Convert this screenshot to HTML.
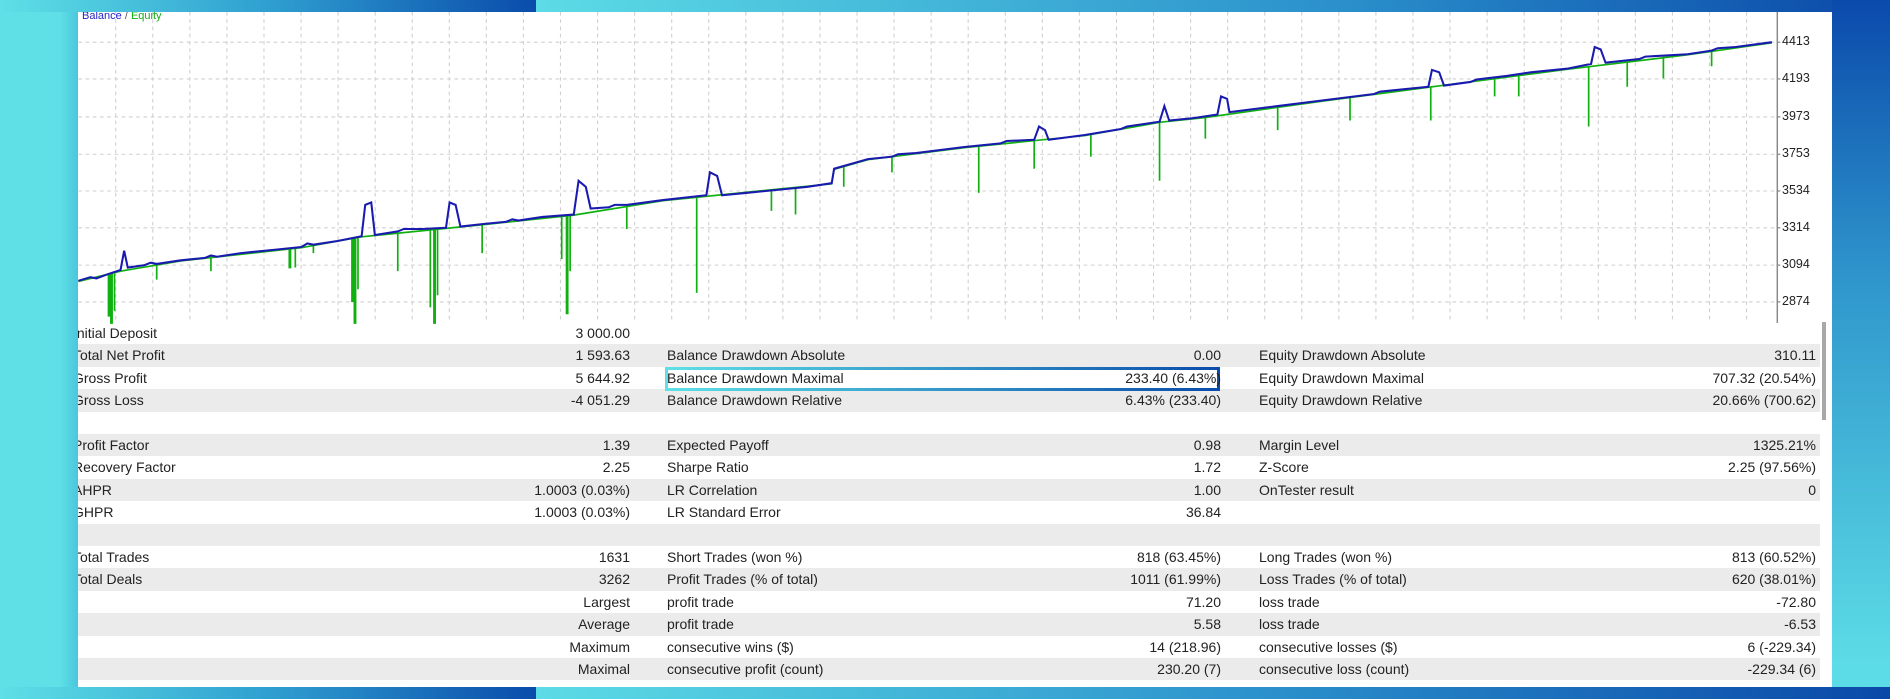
<!DOCTYPE html>
<html><head><meta charset="utf-8">
<style>
*{margin:0;padding:0;box-sizing:border-box}
body{width:1890px;height:699px;overflow:hidden;position:relative;font-family:"Liberation Sans",sans-serif;background:#5ddde6}
.bg{position:absolute}
.panel{position:absolute;left:78px;top:12px;width:1754px;height:675px;background:#fff;overflow:hidden}
.row{position:absolute;left:0;width:1742px;height:22.4px}
.g{background:#ebebeb}
.t{position:absolute;font-size:14px;color:#222;line-height:22.4px;white-space:nowrap}
.r{text-align:right}
.ax{position:absolute;font-size:12.5px;color:#222;left:1704px}
</style></head><body>
<div class="bg" style="left:0;top:0;width:1890px;height:699px;background:linear-gradient(90deg,#5ee0e6 0,#5ee0e6 60px,#4ac6dc 78px,#5ee0e6 79px)"></div>
<div class="bg" style="left:0;top:0;width:536px;height:12px;background:linear-gradient(90deg,#5ee0e6,#2f9fd0 50%,#0a4cab)"></div>
<div class="bg" style="left:536px;top:0;width:1354px;height:12px;background:linear-gradient(90deg,#5cdce6,#2a8fcb 60%,#0a48a8)"></div>
<div class="bg" style="left:1832px;top:0;width:58px;height:699px;background:linear-gradient(180deg,#0a4aab,#2f96cc 40%,#5cdce6 95%)"></div>
<div class="bg" style="left:0;top:687px;width:536px;height:12px;background:linear-gradient(90deg,#5ee0e6,#2f9fd0 50%,#0a4cab)"></div>
<div class="bg" style="left:536px;top:687px;width:1354px;height:12px;background:linear-gradient(90deg,#5cdce6,#2a8fcb 55%,#0a48a8)"></div>

<div class="panel">
<svg style="position:absolute;left:-78px;top:-12px" width="1890" height="699" viewBox="0 0 1568 580" preserveAspectRatio="none">
<g stroke="#cfcfcf" stroke-width="0.9" stroke-dasharray="3,3" fill="none">
<path d="M65,35H1474M65,65.5H1474M65,97H1474M65,128H1474M65,158.5H1474M65,189H1474M65,220H1474M65,250.5H1474"/>
<path d="M96,10V268M126.75,10V268M157.5,10V268M188.25,10V268M219,10V268M249.75,10V268M280.5,10V268M311.25,10V268M342,10V268M372.75,10V268M403.5,10V268M434.25,10V268M465,10V268M495.75,10V268M526.5,10V268M557.25,10V268M588,10V268M618.75,10V268M649.5,10V268M680.25,10V268M711,10V268M741.75,10V268M772.5,10V268M803.25,10V268M834,10V268M864.75,10V268M895.5,10V268M926.25,10V268M957,10V268M987.75,10V268M1018.5,10V268M1049.25,10V268M1080,10V268M1110.75,10V268M1141.5,10V268M1172.25,10V268M1203,10V268M1233.75,10V268M1264.5,10V268M1295.25,10V268M1326,10V268M1356.75,10V268M1387.5,10V268M1418.25,10V268M1449,10V268"/>
</g>
<path d="M1474.5,10V268" stroke="#888" stroke-width="1.2"/>
<g stroke="#888" stroke-width="1"><path d="M1474,35h3M1474,65.5h3M1474,97h3M1474,128h3M1474,158.5h3M1474,189h3M1474,220h3M1474,250.5h3"/></g>
<g fill="none" stroke="#10b010" stroke-width="1.4">
<path d="M65,233.5 L100,225 L150,216.5 L250,205.5 L300,196.5 L400,186.5 L476,178.5 L550,166.5 L690,152.5 L692,140.5 L720,132.5 L800,122.5 L900,112.5 L962,101.5 L1000,97.5 L1100,83.5 L1200,70.5 L1300,57.5 L1400,45.5 L1470,35.5"/>
<path d="M90,228V262h1V228M92,227V268h1V227M95,227V258M130,220V232M175,213V225M240,206V222h1V206M245,205V222M260,203V210M292,197V250h1V197M294,197V268h1V197M297,196V240M330,193V225M357,190V255M360,190V268h1V190M363,189V245M400,186V210M466,179V215M470,179V260h1V179M473,178V225M520,171V190M578,163V243M640,157V175M660,155V178M700,138V155M740,130V143M812,121V160M858,116V140M905,111V130M962,101V150M1000,97V115M1060,89V108M1120,81V100M1187,72V100M1240,65V80M1260,62V80M1318,55V105M1350,51V72M1380,47V65M1420,42V55"/>
</g>
<path fill="none" stroke="#1a1ab0" stroke-width="1.7" d="M65,233 L75,230 L80,231 L88,228 L100,224 L103,208 L106,222 L120,220 L125,218 L130,219 L150,216 L170,214 L175,212 L180,213 L200,210 L230,207 L250,205 L255,202 L260,203 L280,200 L300,196 L303,170 L308,168 L311,195 L330,192 L335,190 L350,190 L370,189 L373,168 L378,170 L382,188 L400,186 L420,184 L425,182 L430,183 L450,180 L476,178 L480,150 L486,155 L490,173 L505,172 L510,170 L520,170 L550,166 L586,162 L589,143 L595,146 L599,162 L620,160 L650,157 L670,155 L690,152 L692,140 L720,132 L740,130 L745,128 L760,127 L800,122 L830,119 L835,117 L858,116 L862,105 L867,108 L870,116 L900,112 L930,107 L935,105 L962,101 L966,88 L970,100 L990,98 L1010,95 L1013,80 L1018,82 L1020,93 L1060,88 L1100,83 L1140,78 L1145,76 L1185,72 L1188,58 L1194,60 L1198,71 L1220,68 L1225,66 L1250,63 L1270,60 L1300,57 L1320,53 L1323,39 L1328,41 L1332,52 L1360,49 L1365,47 L1400,45 L1420,42 L1425,40 L1440,39 L1470,35"/>
</svg>
<div style="position:absolute;left:4px;top:-2px;font-size:11px"><span style="color:#2525c5">Balance</span> <span style="color:#555">/</span> <span style="color:#10b010">Equity</span></div>
<div class="ax" style="top:22px">4413</div>
<div class="ax" style="top:59px">4193</div>
<div class="ax" style="top:97px">3973</div>
<div class="ax" style="top:134px">3753</div>
<div class="ax" style="top:171px">3534</div>
<div class="ax" style="top:208px">3314</div>
<div class="ax" style="top:245px">3094</div>
<div class="ax" style="top:282px">2874</div>

<div style="position:absolute;left:0;top:310px;width:1754px;height:365px">
<div class="row g" style="top:22.4px"></div>
<div class="row g" style="top:67.2px"></div>
<div class="row g" style="top:112px"></div>
<div class="row g" style="top:156.8px"></div>
<div class="row g" style="top:201.6px"></div>
<div class="row g" style="top:246.4px"></div>
<div class="row g" style="top:291.2px"></div>
<div class="row g" style="top:336px"></div>
<div style="position:absolute;left:1744px;top:0;width:4px;height:98px;background:#a8a8a8"></div>
<div style="position:absolute;left:587px;top:45px;width:555px;height:24px;border:3px solid;border-image:linear-gradient(90deg,#5ee0e6,#0a4cab) 1"></div>
</div>

<div style="position:absolute;left:-5px;top:310px;font-size:14px">
<div class="t" style="top:0">Initial Deposit</div>
<div class="t" style="top:22.4px">Total Net Profit</div>
<div class="t" style="top:44.8px">Gross Profit</div>
<div class="t" style="top:67.2px">Gross Loss</div>
<div class="t" style="top:112px">Profit Factor</div>
<div class="t" style="top:134.4px">Recovery Factor</div>
<div class="t" style="top:156.8px">AHPR</div>
<div class="t" style="top:179.2px">GHPR</div>
<div class="t" style="top:224px">Total Trades</div>
<div class="t" style="top:246.4px">Total Deals</div>
</div>
<div style="position:absolute;left:0;top:310px;width:552px">
<div class="t r" style="top:0;right:0">3 000.00</div>
<div class="t r" style="top:22.4px;right:0">1 593.63</div>
<div class="t r" style="top:44.8px;right:0">5 644.92</div>
<div class="t r" style="top:67.2px;right:0">-4 051.29</div>
<div class="t r" style="top:112px;right:0">1.39</div>
<div class="t r" style="top:134.4px;right:0">2.25</div>
<div class="t r" style="top:156.8px;right:0">1.0003 (0.03%)</div>
<div class="t r" style="top:179.2px;right:0">1.0003 (0.03%)</div>
<div class="t r" style="top:224px;right:0">1631</div>
<div class="t r" style="top:246.4px;right:0">3262</div>
<div class="t r" style="top:268.8px;right:0">Largest</div>
<div class="t r" style="top:291.2px;right:0">Average</div>
<div class="t r" style="top:313.6px;right:0">Maximum</div>
<div class="t r" style="top:336px;right:0">Maximal</div>
</div>
<div style="position:absolute;left:589px;top:310px">
<div class="t" style="top:22.4px">Balance Drawdown Absolute</div>
<div class="t" style="top:44.8px">Balance Drawdown Maximal</div>
<div class="t" style="top:67.2px">Balance Drawdown Relative</div>
<div class="t" style="top:112px">Expected Payoff</div>
<div class="t" style="top:134.4px">Sharpe Ratio</div>
<div class="t" style="top:156.8px">LR Correlation</div>
<div class="t" style="top:179.2px">LR Standard Error</div>
<div class="t" style="top:224px">Short Trades (won %)</div>
<div class="t" style="top:246.4px">Profit Trades (% of total)</div>
<div class="t" style="top:268.8px">profit trade</div>
<div class="t" style="top:291.2px">profit trade</div>
<div class="t" style="top:313.6px">consecutive wins ($)</div>
<div class="t" style="top:336px">consecutive profit (count)</div>
</div>
<div style="position:absolute;left:0;top:310px;width:1143px">
<div class="t r" style="top:22.4px;right:0">0.00</div>
<div class="t r" style="top:44.8px;right:0">233.40 (6.43%)</div>
<div class="t r" style="top:67.2px;right:0">6.43% (233.40)</div>
<div class="t r" style="top:112px;right:0">0.98</div>
<div class="t r" style="top:134.4px;right:0">1.72</div>
<div class="t r" style="top:156.8px;right:0">1.00</div>
<div class="t r" style="top:179.2px;right:0">36.84</div>
<div class="t r" style="top:224px;right:0">818 (63.45%)</div>
<div class="t r" style="top:246.4px;right:0">1011 (61.99%)</div>
<div class="t r" style="top:268.8px;right:0">71.20</div>
<div class="t r" style="top:291.2px;right:0">5.58</div>
<div class="t r" style="top:313.6px;right:0">14 (218.96)</div>
<div class="t r" style="top:336px;right:0">230.20 (7)</div>
</div>
<div style="position:absolute;left:1181px;top:310px">
<div class="t" style="top:22.4px">Equity Drawdown Absolute</div>
<div class="t" style="top:44.8px">Equity Drawdown Maximal</div>
<div class="t" style="top:67.2px">Equity Drawdown Relative</div>
<div class="t" style="top:112px">Margin Level</div>
<div class="t" style="top:134.4px">Z-Score</div>
<div class="t" style="top:156.8px">OnTester result</div>
<div class="t" style="top:224px">Long Trades (won %)</div>
<div class="t" style="top:246.4px">Loss Trades (% of total)</div>
<div class="t" style="top:268.8px">loss trade</div>
<div class="t" style="top:291.2px">loss trade</div>
<div class="t" style="top:313.6px">consecutive losses ($)</div>
<div class="t" style="top:336px">consecutive loss (count)</div>
</div>
<div style="position:absolute;left:0;top:310px;width:1738px">
<div class="t r" style="top:22.4px;right:0">310.11</div>
<div class="t r" style="top:44.8px;right:0">707.32 (20.54%)</div>
<div class="t r" style="top:67.2px;right:0">20.66% (700.62)</div>
<div class="t r" style="top:112px;right:0">1325.21%</div>
<div class="t r" style="top:134.4px;right:0">2.25 (97.56%)</div>
<div class="t r" style="top:156.8px;right:0">0</div>
<div class="t r" style="top:224px;right:0">813 (60.52%)</div>
<div class="t r" style="top:246.4px;right:0">620 (38.01%)</div>
<div class="t r" style="top:268.8px;right:0">-72.80</div>
<div class="t r" style="top:291.2px;right:0">-6.53</div>
<div class="t r" style="top:313.6px;right:0">6 (-229.34)</div>
<div class="t r" style="top:336px;right:0">-229.34 (6)</div>
</div>
</div>
</body></html>
